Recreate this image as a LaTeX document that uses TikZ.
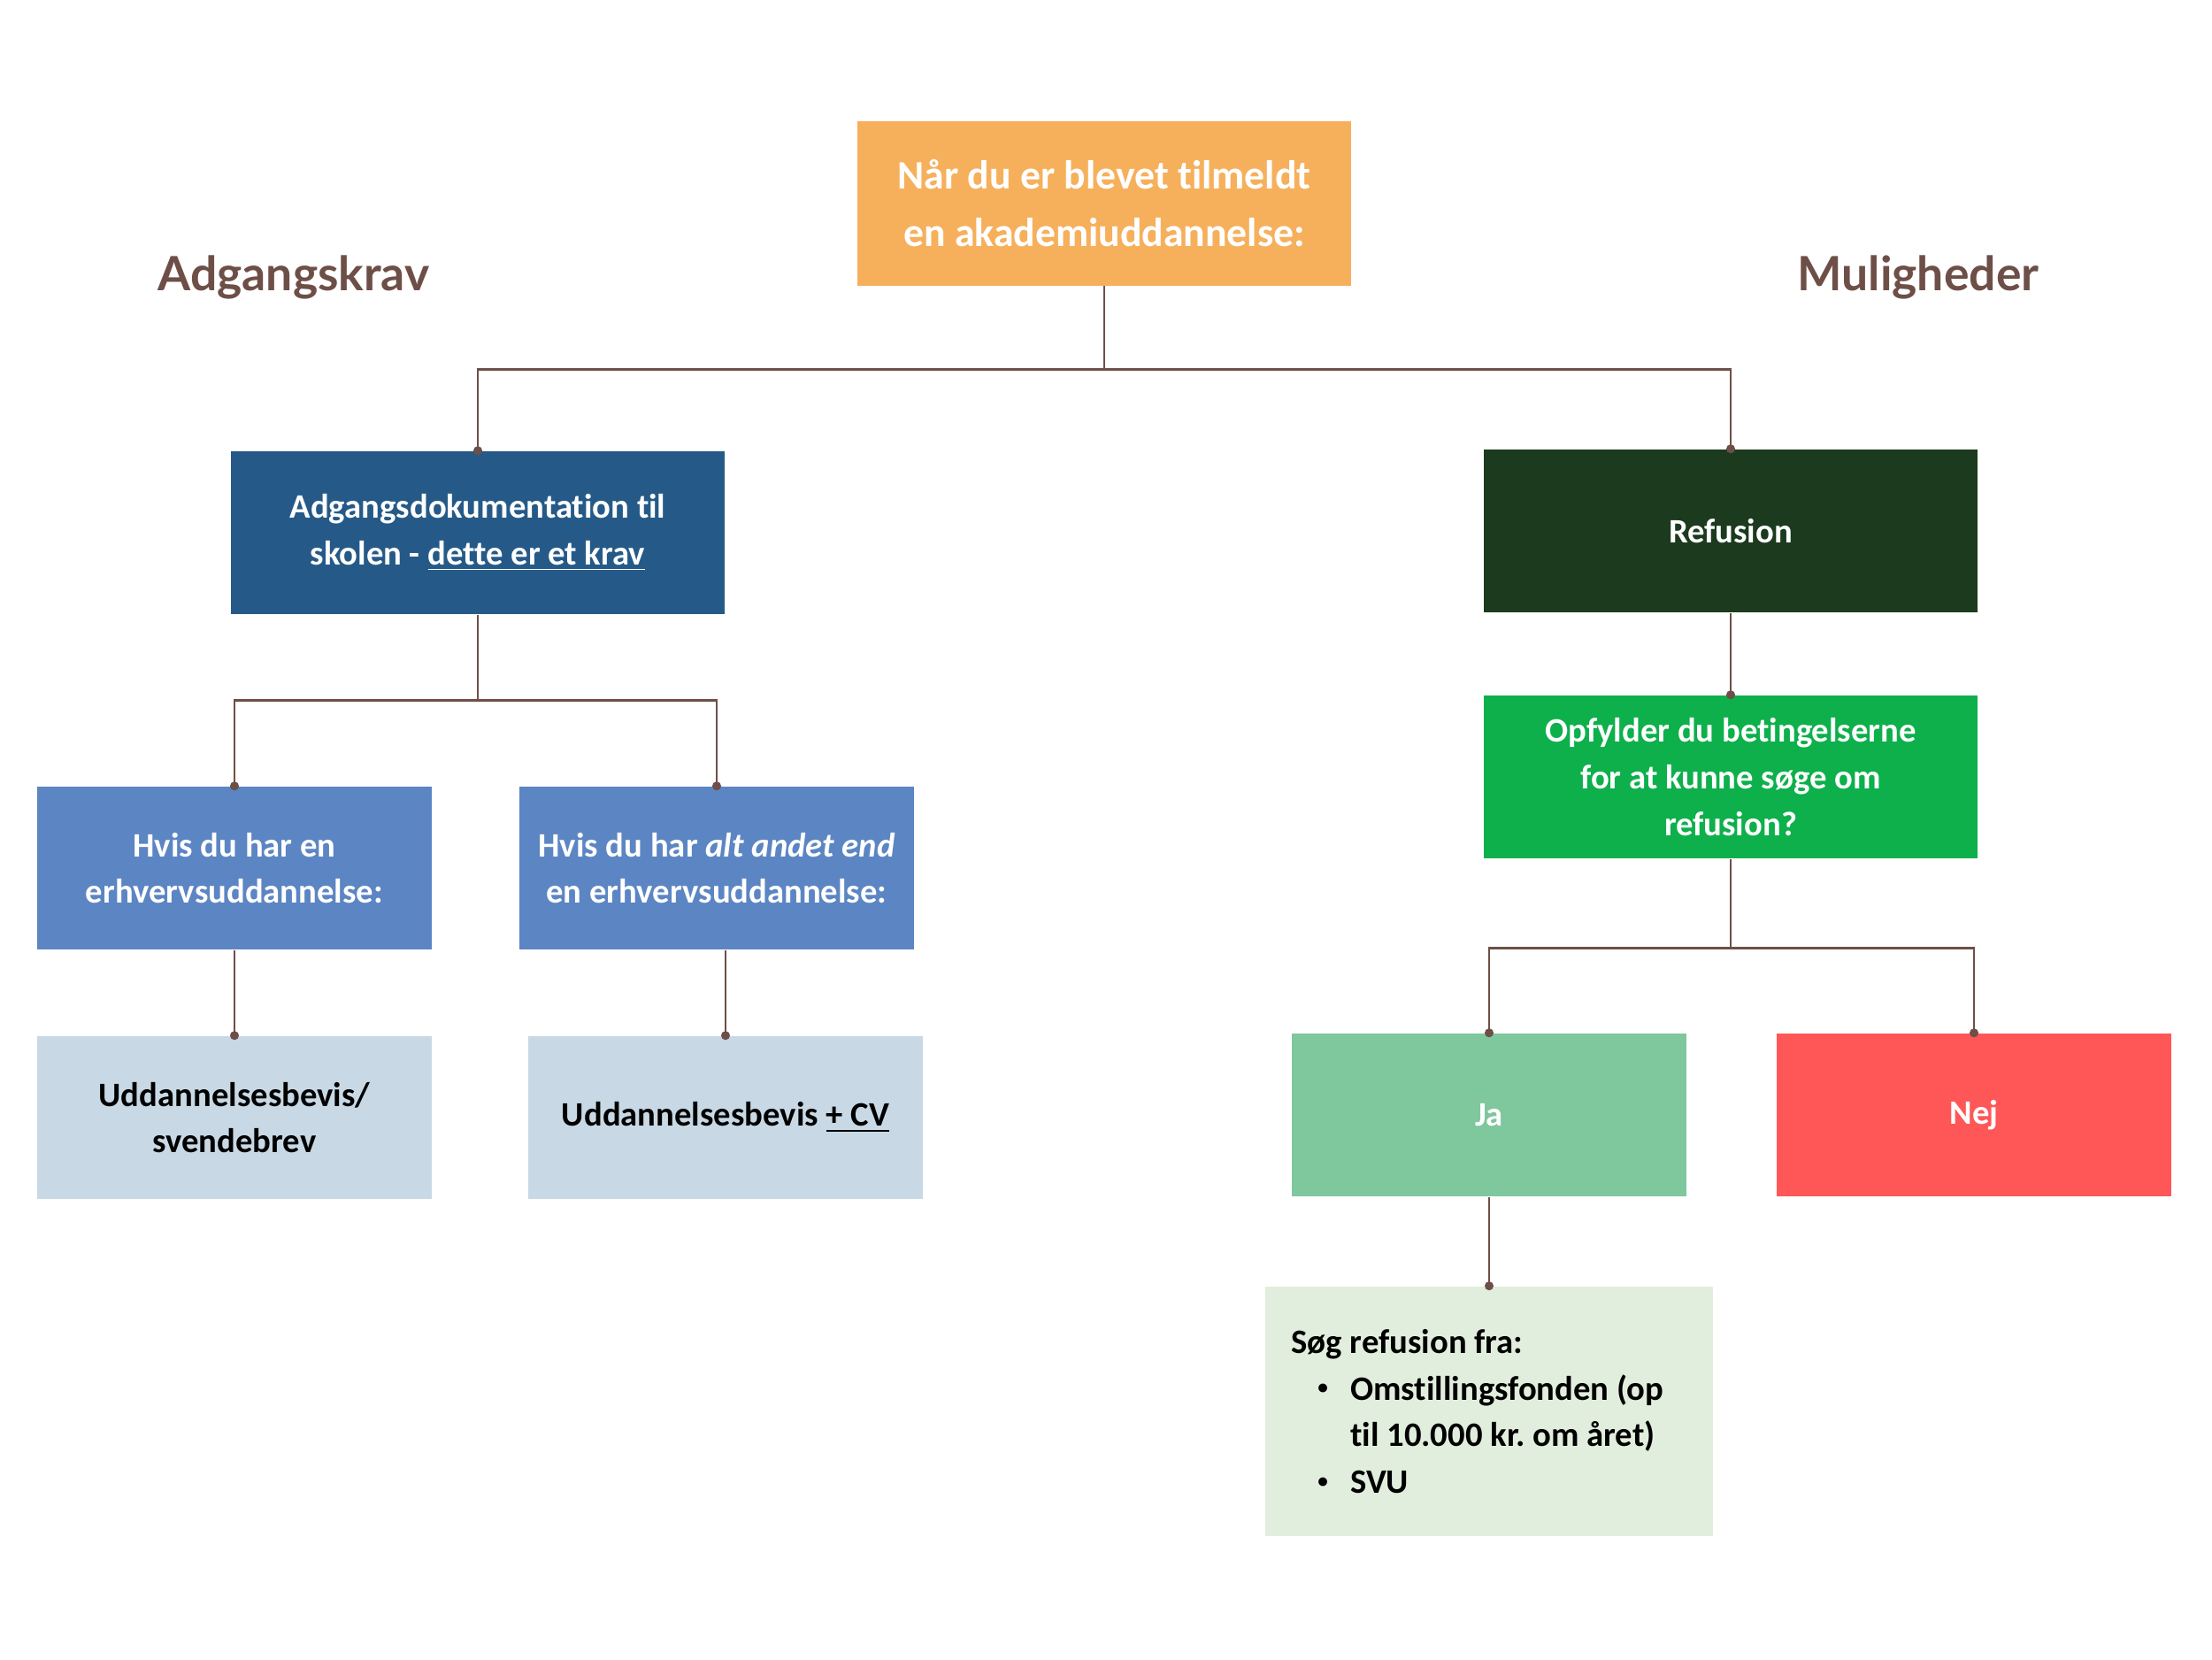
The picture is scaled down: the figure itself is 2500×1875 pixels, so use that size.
\documentclass[tikz,border=0pt]{standalone}
\usepackage{fontspec}
\setmainfont{Carlito}[Ligatures={NoCommon,NoContextual}]
\newfontfamily\headfont{Lato}
\usetikzlibrary{arrows.meta}
\definecolor{orangebox}{HTML}{F6B05C}
\definecolor{darkblue}{HTML}{255A88}
\definecolor{midblue}{HTML}{5C85C3}
\definecolor{paleblue}{HTML}{C8D9E5}
\definecolor{darkgreen}{HTML}{1B3A1E}
\definecolor{brightgreen}{HTML}{0DB04B}
\definecolor{softgreen}{HTML}{7FC79C}
\definecolor{palegreen}{HTML}{E2EEDD}
\definecolor{redbox}{HTML}{FF5757}
\definecolor{brownline}{HTML}{6E4F47}
\newcommand{\bulletrow}[1]{\hspace*{8.5pt}\makebox[10.5pt][l]{\raisebox{0.35ex}{\scalebox{0.6}{\textbullet}}}#1}
\frenchspacing
\begin{document}
\begin{tikzpicture}
[
x=0.01cm, y=-0.01cm,
widebox/.style={rectangle, fill=#1, minimum width=5.58cm, minimum height=1.84cm, inner sep=0pt, align=center, text=white, font=\bfseries\fontsize{11}{15}\selectfont},
smallbox/.style={widebox=#1, minimum width=4.45cm},
heading/.style={text=brownline, font=\headfont\bfseries\fontsize{15.2}{18}\selectfont},
link/.style={draw=brownline, line width=0.8pt, -{Circle[length=2.8pt]}, shorten >=-1.4pt}
]
\useasboundingbox (0,0) rectangle (2500,1875);
%Nodes
\node[widebox=orangebox, minimum height=1.85cm, font=\bfseries\fontsize{13}{18.5}\selectfont] at(1248,230)	(top) {Når du er blevet tilmeldt\\en akademiuddannelse:};
\node[heading]	(hl) at(332,313) {Adgangskrav};
\node[heading]	(hr) at(2168,313) {Muligheder};
\node[widebox=darkblue] at(540,602)		(adg) {Adgangsdokumentation til\\skolen - \underline{dette er et krav}};
\node[smallbox=midblue] at(265,981)		(hv1) {Hvis du har en\\erhvervsuddannelse:};
\node[smallbox=midblue] at(810,981)		(hv2) {Hvis du har \textit{alt andet end}\\en erhvervsuddannelse:};
\node[smallbox=paleblue, text=black] at(265,1263)	(ud1) {Uddannelsesbevis/\\svendebrev};
\node[smallbox=paleblue, text=black] at(820,1263)	(ud2) {Uddannelsesbevis \underline{+ CV}};
\node[widebox=darkgreen] at(1956,600)		(ref) {Refusion};
\node[widebox=brightgreen] at(1956,878)	(opf) {Opfylder du betingelserne\\for at kunne søge om\\refusion?};
\node[smallbox=softgreen] at(1683,1260)	(ja) {Ja};
\node[smallbox=redbox] at(2231,1260)		(nej) {Nej};
\node[widebox=palegreen, text=black, minimum width=5.05cm, minimum height=2.82cm, text width=4.47cm, inner xsep=0.29cm, align=flush left] at(1683,1595) (sog) {Søg refusion fra:\\\bulletrow{Omstillingsfonden (op}\\\hspace*{19pt}til 10.000 kr. om året)\\\bulletrow{SVU}};
%Connectors
\draw[link] (top.south) -- ++(0,94) -| (adg.north);
\draw[link] (top.south) -- ++(0,94) -| (ref.north);
\draw[link] (adg.south) -- ++(0,97) -| (hv1.north);
\draw[link] (adg.south) -- ++(0,97) -| (hv2.north);
\draw[link] (hv1.south) -- (ud1.north);
\draw[link] (hv2.south -| ud2.north) -- (ud2.north);
\draw[link] (ref.south) -- (opf.north);
\draw[link] (opf.south) -- ++(0,101) -| (ja.north);
\draw[link] (opf.south) -- ++(0,101) -| (nej.north);
\draw[link] (ja.south) -- (sog.north);
\end{tikzpicture}
\end{document}
